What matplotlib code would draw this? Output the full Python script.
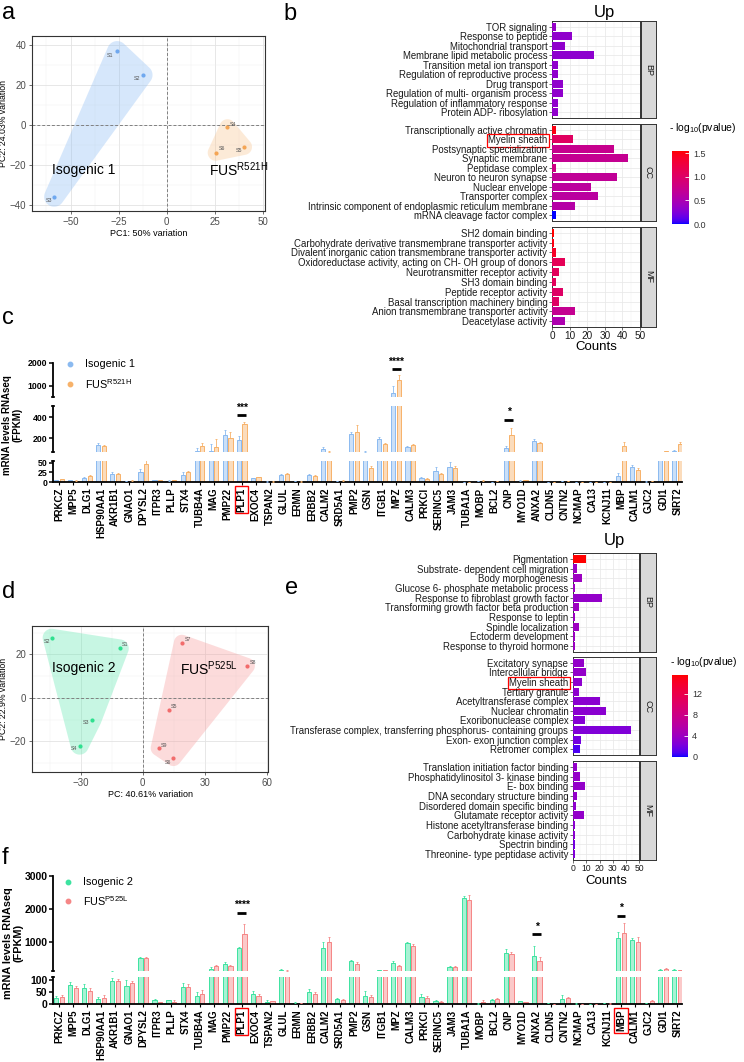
import numpy as np
import matplotlib
matplotlib.use('Agg')
import matplotlib.pyplot as plt
from matplotlib.colors import ListedColormap, Normalize, to_rgb
from matplotlib.cm import ScalarMappable
from matplotlib.patches import Polygon
from matplotlib.lines import Line2D

plt.rcParams['font.family'] = ['Liberation Sans', 'DejaVu Sans']
plt.rcParams['mathtext.fontset'] = 'custom'
plt.rcParams['mathtext.rm'] = 'Liberation Sans'

# ---------------- DATA ----------------
# Panel a: PCA (Isogenic 1 vs FUS R521H)
pca1_samples = ['S1', 'S2', 'S3', 'S4', 'S5', 'S6']
pca1_pc1 = [-25.8, -12.6, -58.5, 31.5, 40.1, 25.4]
pca1_pc2 = [36.8, 24.9, -35.7, -1.1, -10.9, -13.8]
pca1_group = [0, 0, 0, 1, 1, 1]

# Panel d: PCA (Isogenic 2 vs FUS P525L)
pca2_samples = ['S1', 'S2', 'S3', 'S4', 'S5', 'S6', 'S7', 'S8', 'S9']
pca2_pc1 = [-11.1, -44.0, -24.3, -30.5, 12.6, 14.8, 18.9, 50.3, 7.7]
pca2_pc2 = [22.7, 27.6, -10.1, -21.9, -5.5, -27.6, 25.3, 14.7, -23.0]
pca2_group = [0, 0, 0, 0, 1, 1, 1, 1, 1]

# Panel b: GO "Up" (FUS R521H)
b_BP_terms = ['TOR signaling', 'Response to peptide', 'Mitochondrial transport',
              'Membrane lipid metabolic process', 'Transition metal ion transport',
              'Regulation of reproductive process', 'Drug transport',
              'Regulation of multi- organism process', 'Regulation of inflammatory response',
              'Protein ADP- ribosylation']
b_BP_counts = [2, 11, 7, 24, 3, 3, 6, 6, 3, 3]
b_BP_logp = [0.36, 0.33, 0.33, 0.31, 0.33, 0.33, 0.33, 0.33, 0.33, 0.33]
b_CC_terms = ['Transcriptionally active chromatin', 'Myelin sheath', 'Postsynaptic specialization',
              'Synaptic membrane', 'Peptidase complex', 'Neuron to neuron synapse',
              'Nuclear envelope', 'Transporter complex',
              'Intrinsic component of endoplasmic reticulum membrane', 'mRNA cleavage factor complex']
b_CC_counts = [2, 12, 35, 43, 2, 37, 22, 26, 13, 2]
b_CC_logp = [1.5, 1.05, 0.74, 0.72, 0.8, 0.68, 0.64, 0.62, 0.58, 0.0]
b_MF_terms = ['SH2 domain binding', 'Carbohydrate derivative transmembrane transporter activity',
              'Divalent inorganic cation transmembrane transporter activity',
              'Oxidoreductase activity, acting on CH- OH group of donors',
              'Neurotransmitter receptor activity', 'SH3 domain binding', 'Peptide receptor activity',
              'Basal transcription machinery binding', 'Anion transmembrane transporter activity',
              'Deacetylase activity']
b_MF_counts = [1, 1, 2, 7, 4, 2, 6, 4, 13, 7]
b_MF_logp = [1.55, 1.5, 1.4, 1.12, 1.08, 1.08, 1.02, 1.02, 0.72, 0.52]

# Panel e: GO "Up" (FUS P525L)
e_BP_terms = ['Pigmentation', 'Substrate- dependent cell migration', 'Body morphogenesis',
              'Glucose 6- phosphate metabolic process', 'Response to fibroblast growth factor',
              'Transforming growth factor beta production', 'Response to leptin',
              'Spindle localization', 'Ectoderm development', 'Response to thyroid hormone']
e_BP_counts = [10, 3, 7, 1, 22, 4, 1, 4, 1, 1]
e_BP_logp = [15.6, 4, 4, 4, 3.5, 4, 4, 4, 4, 4]
e_CC_terms = ['Excitatory synapse', 'Intercellular bridge', 'Myelin sheath', 'Tertiary granule',
              'Acetyltransferase complex', 'Nuclear chromatin', 'Exoribonuclease complex',
              'Transferase complex, transferring phosphorus- containing groups',
              'Exon- exon junction complex', 'Retromer complex']
e_CC_counts = [8, 10, 7, 4, 20, 25, 9, 44, 6, 5]
e_CC_logp = [3.5, 3.5, 3.2, 3.2, 3.0, 3.0, 2.8, 2.5, 2.0, 0.8]
e_MF_terms = ['Translation initiation factor binding', 'Phosphatidylinositol 3- kinase binding',
              'E- box binding', 'DNA secondary structure binding', 'Disordered domain specific binding',
              'Glutamate receptor activity', 'Histone acetyltransferase binding',
              'Carbohydrate kinase activity', 'Spectrin binding', 'Threonine- type peptidase activity']
e_MF_counts = [2.5, 5, 9, 3, 2, 8, 1.5, 1.5, 1.5, 1]
e_MF_logp = [3.5, 3.5, 3.5, 3.5, 3.2, 3.5, 3.0, 3.0, 2.0, 2.5]

# Panels c and f: genes
genes = ['PRKCZ', 'MPP5', 'DLG1', 'HSP90AA1', 'AKR1B1', 'GNAO1', 'DPYSL2', 'ITPR3', 'PLLP', 'STX4',
         'TUBB4A', 'MAG', 'PMP22', 'PLP1', 'EXOC4', 'TSPAN2', 'GLUL', 'ERMN', 'ERBB2', 'CALM2',
         'SRD5A1', 'PMP2', 'GSN', 'ITGB1', 'MPZ', 'CALM3', 'PRKCI', 'SERINC5', 'JAM3', 'TUBA1A',
         'MOBP', 'BCL2', 'CNP', 'MYO1D', 'ANXA2', 'CLDN5', 'CNTN2', 'NCMAP', 'CA13', 'KCNJ11',
         'MBP', 'CALM1', 'GJC2', 'GDI1', 'SIRT2']
c_iso1 = [5, 4, 10, 130, 22, 2, 27, 4, 3, 18, 75, 80, 228, 180, 10, 1, 18, 2, 18, 95, 2, 238, 67,
          195, 680, 114, 10, 28, 40, 1, 2, 1, 105, 3, 171, 1, 2, 1, 0.5, 1, 16, 39, 1, 57, 76]
c_iso1_err = [1, 1, 2, 25, 4, 1, 6, 1, 1, 8, 30, 60, 50, 35, 1, 0.5, 3, 0.5, 3, 15, 1, 20, 10, 15,
              300, 10, 2, 10, 12, 0.3, 1, 0.3, 15, 1, 20, 0.3, 0.5, 0.3, 0.2, 0.3, 8, 6, 0.5, 5, 10]
c_fus1 = [8, 3, 16, 124, 20, 3, 47, 4, 4, 26, 124, 114, 200, 333, 12, 1, 20, 1, 16, 67, 3, 257, 37,
          143, 1260, 133, 9, 20, 37, 1, 3, 2, 230, 4, 152, 1, 2, 1, 0.5, 1, 124, 32, 2, 76, 143]
c_fus1_err = [1, 1, 3, 10, 3, 1, 10, 1, 1, 4, 30, 80, 60, 20, 1, 0.5, 3, 0.5, 2, 10, 1, 65, 5, 10,
              200, 12, 2, 4, 5, 0.3, 1, 0.5, 70, 1, 10, 0.3, 0.5, 0.3, 0.2, 0.3, 40, 4, 0.5, 5, 15]
f_iso2 = [25, 79, 68, 19, 96, 76, 500, 17, 15, 72, 33, 190, 320, 826, 40, 10, 150, 5, 49, 826, 21,
          410, 33, 140, 370, 955, 30, 11, 240, 2330, 2, 15, 680, 11, 580, 4, 21, 2, 1, 4, 1110, 1060,
          4, 163, 163]
f_iso2_err = [10, 12, 15, 8, 10, 25, 40, 3, 2, 15, 15, 40, 80, 30, 15, 8, 20, 2, 15, 180, 4, 30, 20,
              15, 60, 40, 12, 4, 30, 70, 1, 5, 100, 2, 300, 1, 15, 1, 0.5, 1, 200, 60, 2, 20, 15]
f_fus2 = [30, 65, 56, 26, 94, 89, 510, 7, 10, 69, 40, 260, 260, 1255, 33, 11, 135, 4, 40, 1000, 17,
          340, 30, 140, 270, 870, 25, 8, 240, 2280, 10, 21, 650, 8, 430, 1, 24, 1, 1, 2, 1265, 990,
          11, 184, 143]
f_fus2_err = [8, 10, 10, 10, 8, 8, 40, 2, 5, 12, 18, 50, 50, 300, 10, 3, 15, 2, 8, 150, 3, 60, 8,
              15, 40, 60, 10, 3, 20, 150, 5, 5, 50, 2, 120, 1, 4, 1, 0.5, 1, 300, 150, 5, 40, 20]
c_sig = [('PLP1', '***'), ('MPZ', '****'), ('CNP', '*')]
f_sig = [('PLP1', '****'), ('ANXA2', '*'), ('MBP', '*')]

# ---------------- HELPERS ----------------
W, H = 744, 1062
fig = plt.figure(figsize=(W / 100, H / 100), dpi=100)


def add_ax(l, t, r, b):
    return fig.add_axes([l / W, 1 - b / H, (r - l) / W, (b - t) / H])


def fx(x):
    return x / W


def fy(y):
    return 1 - y / H


# Lab interpolated blue->red gradient (like ggplot scale_fill_gradient)
_M = np.array([[0.4124564, 0.3575761, 0.1804375],
               [0.2126729, 0.7151522, 0.0721750],
               [0.0193339, 0.1191920, 0.9503041]])
_WP = np.array([0.95047, 1.0, 1.08883])


def srgb_to_lab(rgb):
    rgb = np.asarray(rgb, float)
    lin = np.where(rgb <= 0.04045, rgb / 12.92, ((rgb + 0.055) / 1.055) ** 2.4)
    t = (_M @ lin) / _WP
    f = np.where(t > (6 / 29) ** 3, np.cbrt(t), t / (3 * (6 / 29) ** 2) + 4 / 29)
    return np.array([116 * f[1] - 16, 500 * (f[0] - f[1]), 200 * (f[1] - f[2])])


def lab_to_srgb(lab):
    L, a, b = lab
    fyv = (L + 16) / 116
    fxv = fyv + a / 500
    fzv = fyv - b / 200

    def finv(f):
        return np.where(f > 6 / 29, f ** 3, 3 * (6 / 29) ** 2 * (f - 4 / 29))
    xyz = np.array([finv(fxv), finv(fyv), finv(fzv)]) * _WP
    lin = np.clip(np.linalg.inv(_M) @ xyz, 0, 1)
    rgb = np.where(lin <= 0.0031308, 12.92 * lin, 1.055 * lin ** (1 / 2.4) - 0.055)
    return np.clip(rgb, 0, 1)


lab_lo = srgb_to_lab([0, 0, 1])
lab_hi = srgb_to_lab([1, 0, 0])
cmap = ListedColormap([lab_to_srgb(lab_lo + (lab_hi - lab_lo) * t) for t in np.linspace(0, 1, 256)])


def convex_hull(points):
    pts = sorted(set(points))
    if len(pts) <= 2:
        return pts

    def cross(o, a, b):
        return (a[0] - o[0]) * (b[1] - o[1]) - (a[1] - o[1]) * (b[0] - o[0])
    lower, upper = [], []
    for p in pts:
        while len(lower) >= 2 and cross(lower[-2], lower[-1], p) <= 0:
            lower.pop()
        lower.append(p)
    for p in reversed(pts):
        while len(upper) >= 2 and cross(upper[-2], upper[-1], p) <= 0:
            upper.pop()
        upper.append(p)
    return lower[:-1] + upper[:-1]


def rounded_hull(ax, xs, ys, r_px, color, alpha):
    pos = ax.get_position()
    xl, yl = ax.get_xlim(), ax.get_ylim()
    rx = r_px / (pos.width * W / (xl[1] - xl[0]))
    ry = r_px / (pos.height * H / (yl[1] - yl[0]))
    th = np.linspace(0, 2 * np.pi, 72, endpoint=False)
    pts = []
    for x, y in zip(xs, ys):
        for t in th:
            pts.append((round(x + rx * np.cos(t), 6), round(y + ry * np.sin(t), 6)))
    hull = convex_hull(pts)
    ax.add_patch(Polygon(hull, closed=True, facecolor=color, alpha=alpha, edgecolor='none', zorder=1.5))


def pca_panel(box, xlim, ylim, xt, xtm, yt, ytm, xs, ys, groups, names, offsets, cols, fills,
              r_px, xlabel, ylabel, texts):
    ax = add_ax(*box)
    ax.set_xlim(*xlim)
    ax.set_ylim(*ylim)
    ax.set_xticks(xt)
    ax.set_xticks(xtm, minor=True)
    ax.set_yticks(yt)
    ax.set_yticks(ytm, minor=True)
    ax.grid(which='major', color='#e3e3e3', lw=0.6)
    ax.grid(which='minor', color='#efefef', lw=0.35)
    ax.set_axisbelow(True)
    ax.tick_params(which='minor', length=0)
    ax.tick_params(which='major', length=2.5, width=0.5, color='#333333', labelsize=7.0,
                   labelcolor='#4d4d4d', pad=1.5)
    ax.set_xticklabels([('\u2212' + str(abs(v))) if v < 0 else str(v) for v in xt])
    ax.set_yticklabels([('\u2212' + str(abs(v))) if v < 0 else str(v) for v in yt])
    for s in ax.spines.values():
        s.set_color('#333333')
        s.set_linewidth(0.8)
    xs = np.array(xs)
    ys = np.array(ys)
    groups = np.array(groups)
    for g in (0, 1):
        m = groups == g
        rounded_hull(ax, xs[m], ys[m], r_px[g], fills[g], 0.35)
    ax.axhline(0, ls=(0, (3, 2)), color='#808080', lw=0.7, zorder=2)
    ax.axvline(0, ls=(0, (3, 2)), color='#808080', lw=0.7, zorder=2)
    for g in (0, 1):
        m = groups == g
        ax.scatter(xs[m], ys[m], s=9, color=cols[g], zorder=4, linewidths=0)
    for x, y, n, (dx, dy) in zip(xs, ys, names, offsets):
        ax.annotate(n, (x, y), xytext=(dx * 0.72, -dy * 0.72), textcoords='offset points',
                    fontsize=3.8, color='#555555', ha='center', va='center', zorder=5)
    ax.set_xlabel(xlabel, fontsize=6.5, labelpad=2)
    ax.set_ylabel(ylabel, fontsize=6.3)
    bw = box[2] - box[0]
    ax.yaxis.set_label_coords((8 - box[0]) / bw, 0.5)
    for (tx, ty, s) in texts:
        ax.text(tx, ty, s, fontsize=10, ha='left', va='center', zorder=6)
    return ax


def go_panel(x_l, x_r, strip_r, bounds, terms_l, counts_l, logp_l, norm, tick_fs, lab_fs,
             cb_box, cb_ticks, cb_labels, cb_title_xy, title_xy, counts_y):
    strips = ['BP', 'CC', 'MF']
    for k, (top, bot) in enumerate(bounds):
        ax = add_ax(x_l, top, x_r, bot)
        terms, counts, lp = terms_l[k], counts_l[k], logp_l[k]
        n = len(terms)
        ys = np.arange(n)[::-1]
        ax.barh(ys, counts, height=0.85, color=cmap(norm(np.array(lp))), zorder=3)
        ax.set_ylim(-0.6, n - 0.4)
        ax.set_xlim(-0.2, 50)
        ax.set_yticks(ys)
        ax.set_yticklabels(terms, fontsize=lab_fs, color='#1a1a1a')
        ax.set_xticks(range(0, 51, 10))
        ax.set_xticks(range(5, 50, 10), minor=True)
        ax.grid(which='major', color='#e8e8e8', lw=0.55)
        ax.grid(which='minor', axis='x', color='#f0f0f0', lw=0.35)
        ax.set_axisbelow(True)
        for s in ax.spines.values():
            s.set_color('#333333')
            s.set_linewidth(0.7)
        ax.tick_params(axis='y', length=2.2, width=0.5, color='#333333', pad=1.2)
        ax.tick_params(which='minor', length=0)
        if k < 2:
            ax.tick_params(axis='x', length=0, labelbottom=False)
        else:
            ax.tick_params(axis='x', length=2.2, width=0.5, color='#333333', labelsize=tick_fs,
                           pad=0.8, labelcolor='#1a1a1a')
        for lab in ax.get_yticklabels():
            if lab.get_text() == 'Myelin sheath':
                lab.set_bbox(dict(facecolor='none', edgecolor='red', linewidth=0.9, pad=1.0))
        st = add_ax(x_r + 1, top, strip_r, bot)
        st.set_facecolor('#d9d9d9')
        st.set_xticks([])
        st.set_yticks([])
        for s in st.spines.values():
            s.set_color('#333333')
            s.set_linewidth(0.7)
        st.text(0.5, 0.5, strips[k], rotation=270, ha='center', va='center', fontsize=6.5,
                color='#1a1a1a', transform=st.transAxes)
    fig.text(fx((x_l + strip_r) / 2), fy(title_xy), 'Up', fontsize=12, ha='center', va='center')
    fig.text(fx((x_l + x_r) / 2), fy(counts_y), 'Counts', fontsize=9.5, ha='center', va='center')
    cax = add_ax(*cb_box)
    cb = fig.colorbar(ScalarMappable(norm=norm, cmap=cmap), cax=cax)
    cb.outline.set_visible(False)
    cb.set_ticks(cb_ticks)
    cb.ax.set_yticklabels(cb_labels, fontsize=6.5, color='#333333')
    cb.ax.tick_params(length=3, width=0.6, color='white', direction='in', pad=3)
    fig.text(fx(cb_title_xy[0]), fy(cb_title_xy[1]), '- log$_{\\mathregular{10}}$(pvalue)',
             fontsize=7.5, ha='left', va='center')


def mix(c, t):
    r = np.array(to_rgb(c))
    return tuple(r + (1 - r) * t)


def bar_panel(segs, x_l, x_r, v1, e1, v2, e2, c1, c2, sigs, boxed, ytick_fs, legend, ylab, ylab_fs):
    n = len(genes)
    x = np.arange(n)
    sp = 14.05
    x0 = (x_l - 59) / sp
    x1 = x0 + (x_r - x_l) / sp
    off, w = 0.2, 0.3
    axes = {}
    for k, (name, top, bot, ylo, yhi, ticks) in enumerate(segs):
        ax = add_ax(x_l, top, x_r, bot)
        axes[name] = ax
        ax.set_xlim(x0, x1)
        ax.set_ylim(ylo, yhi)
        for xs_, v, e, c in ((x - off, v1, e1, c1), (x + off, v2, e2, c2)):
            ax.bar(xs_, v, width=w, color=mix(c, 0.55), edgecolor=c, linewidth=0.7, zorder=2)
            ax.errorbar(xs_, v, yerr=[np.zeros(n), e], fmt='none', ecolor=c, elinewidth=0.6,
                        capsize=1.0, capthick=0.6, zorder=3)
        for s in ('top', 'right'):
            ax.spines[s].set_visible(False)
        ax.spines['left'].set_linewidth(1.3)
        ax.set_yticks(ticks)
        ax.set_yticklabels([str(t) for t in ticks], fontsize=ytick_fs, fontweight='bold')
        ax.set_yticks([ylo, yhi], minor=True)
        ax.tick_params(axis='y', which='major', length=3, width=1.1, pad=1)
        ax.tick_params(axis='y', which='minor', length=3.5, width=1.1, direction='inout')
        if k < len(segs) - 1:
            ax.spines['bottom'].set_visible(False)
            ax.tick_params(axis='x', length=0, labelbottom=False)
        else:
            ax.spines['bottom'].set_linewidth(1.3)
            ax.set_xticks(x)
            ax.set_xticklabels(genes, rotation=90, fontsize=7, fontweight='bold')
            ax.tick_params(axis='x', length=2.5, width=0.8, pad=1.5)
            for lab in ax.get_xticklabels():
                if lab.get_text() in boxed:
                    lab.set_bbox(dict(facecolor='none', edgecolor='red', linewidth=1.0, pad=1.2))
        ax.patch.set_alpha(0)
    for (gname, txt, segname, yline, ytxt) in sigs:
        ax = axes[segname]
        gi = genes.index(gname)
        ax.plot([gi - 0.32, gi + 0.32], [yline, yline], color='black', lw=2.0,
                solid_capstyle='butt', clip_on=False, zorder=5)
        ax.text(gi, ytxt, txt, ha='center', va='center', fontsize=7.5, fontweight='bold',
                clip_on=False, zorder=5)
    for (lx, ly, col, s) in legend:
        fig.add_artist(Line2D([fx(lx)], [fy(ly)], marker='o', ms=3.2, color=col, ls='none',
                              transform=fig.transFigure))
        fig.text(fx(lx + 15), fy(ly), s, fontsize=7.8, ha='left', va='center')
    fig.text(fx(ylab[0]), fy(ylab[1]), 'mRNA levels RNAseq\n(FPKM)', rotation=90, ha='center',
             va='center', fontsize=ylab_fs, fontweight='bold', multialignment='center',
             linespacing=1.1)


# ---------------- PANEL LABELS ----------------
for (lx, ly, s) in [(2, 13, 'a'), (283, 14, 'b'), (2, 318, 'c'), (2, 592, 'd'), (285, 588, 'e'),
                    (2, 858, 'f')]:
    fig.text(fx(lx), fy(ly), s, fontsize=17, ha='left', va='center')

# ---------------- PANEL a ----------------
pca_panel((32, 36, 265, 211), (-70, 51), (-42.8, 44.3), [-50, -25, 0, 25, 50],
          [-62.5, -37.5, -12.5, 12.5, 37.5], [-40, -20, 0, 20, 40], [-30, -10, 10, 30],
          pca1_pc1, pca1_pc2, pca1_group, pca1_samples,
          [(-7, 4), (-6, 4), (-5, 4), (6, -3), (-5, 4), (6, -4)],
          ['#6fa8ef', '#f4a555'], ['#8cbcf5', '#f9c48e'], (10, 8),
          'PC1: 50% variation', 'PC2: 24.03% variation',
          [(-59.7, -22.4, 'Isogenic 1'), (21.8, -22.4, 'FUS$^{\\mathregular{R521H}}$')])

# ---------------- PANEL d ----------------
pca_panel((32, 626, 268, 772), (-53.5, 60.5), (-34, 33), [-30, 0, 30, 60], [-45, -15, 15, 45],
          [-20, 0, 20], [-30, -10, 10, 30],
          pca2_pc1, pca2_pc2, pca2_group, pca2_samples,
          [(5, -4), (-5, 4), (-6, 3), (-6, 3), (5, -3), (-5, 4), (6, -3), (6, -3), (5, -3)],
          ['#2fe08f', '#f26c6c'], ['#5fe8b0', '#f79a9a'], (9, 8),
          'PC: 40.61% variation', 'PC2: 22.9% variation',
          [(-44, 13.6, 'Isogenic 2'), (17.9, 13.6, 'FUS$^{\\mathregular{P525L}}$')])

# ---------------- PANEL b ----------------
go_panel(552, 640, 656, [(21, 118), (124, 221), (227, 327)],
         [b_BP_terms, b_CC_terms, b_MF_terms], [b_BP_counts, b_CC_counts, b_MF_counts],
         [b_BP_logp, b_CC_logp, b_MF_logp], Normalize(0, 1.55), 7.2, 6.9,
         (672, 151, 689, 224), [0, 0.5, 1.0, 1.5], ['0.0', '0.5', '1.0', '1.5'], (669, 128), 13, 347)

# ---------------- PANEL e ----------------
go_panel(573, 639, 656, [(553, 652), (657, 755), (761, 860)],
         [e_BP_terms, e_CC_terms, e_MF_terms], [e_BP_counts, e_CC_counts, e_MF_counts],
         [e_BP_logp, e_CC_logp, e_MF_logp], Normalize(0, 15.6), 6.2, 6.9,
         (672, 675, 688, 757), [0, 4, 8, 12], ['0', '4', '8', '12'], (670, 662), 540, 881)

# ---------------- PANEL c ----------------
bar_panel([('top', 363, 397, 520, 2000, [1000, 2000]),
           ('mid', 406, 452, 67, 505, [200, 400]),
           ('bot', 461, 482, 0, 55, [0, 25, 50])],
          53, 682, c_iso1, c_iso1_err, c_fus1, c_fus1_err, '#8bbaf0', '#f7b26a',
          [('PLP1', c_sig[0][1], 'mid', 419, 486), ('MPZ', c_sig[1][1], 'top', 1740, 2045),
           ('CNP', c_sig[2][1], 'mid', 371, 448)],
          ['PLP1'], 6.3,
          [(70, 364, '#8bbaf0', 'Isogenic 1'), (70, 384, '#f7b26a', 'FUS$^{\\mathregular{R521H}}$')],
          (12, 425), 7.0)

# ---------------- PANEL f ----------------
bar_panel([('top', 876, 971, 120, 3000, [1000, 2000, 3000]),
           ('bot', 977, 1004, 0, 112, [0, 50, 100])],
          53, 682, f_iso2, f_iso2_err, f_fus2, f_fus2_err, '#3de3a0', '#f58686',
          [('PLP1', f_sig[0][1], 'top', 1888, 2120), ('ANXA2', f_sig[1][1], 'top', 1240, 1455),
           ('MBP', f_sig[2][1], 'top', 1800, 2030)],
          ['PLP1', 'MBP'], 7.5,
          [(68, 882, '#3de3a0', 'Isogenic 2'), (68, 901, '#f58686', 'FUS$^{\\mathregular{P525L}}$')],
          (13, 943), 7.8)

fig.savefig('out.png', dpi=100)
